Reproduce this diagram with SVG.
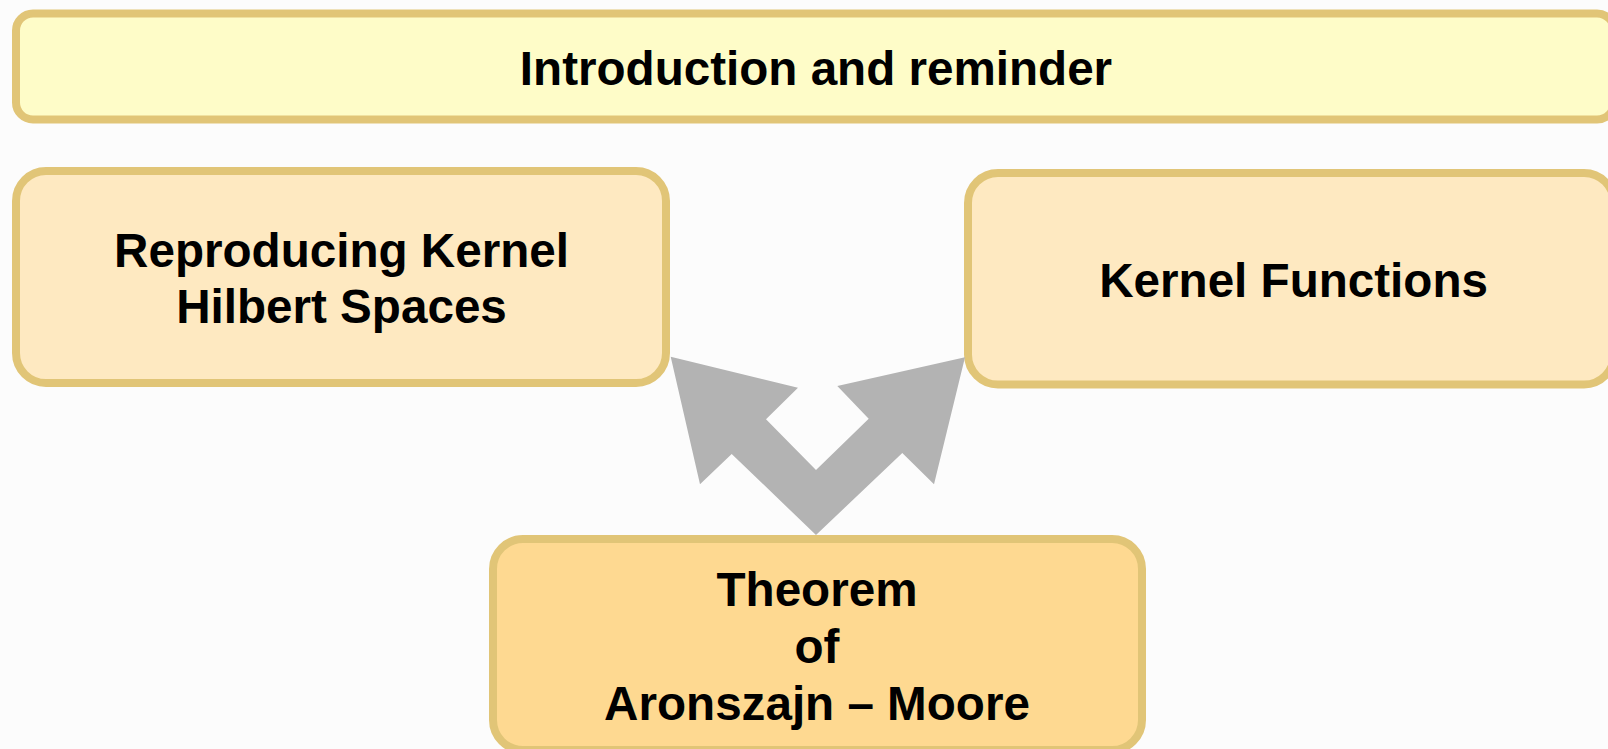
<svg xmlns="http://www.w3.org/2000/svg" width="1608" height="749" viewBox="0 0 1608 749">
<style>
.box{stroke:#E1C577;stroke-width:8}
.t{font-family:"Liberation Sans",Arial,sans-serif;font-weight:bold;font-size:47.6px;fill:#000;text-anchor:middle}
.arrow{fill:#B3B3B3}
</style>
<rect x="0" y="0" width="1608" height="749" fill="#FCFCFC"/>
<g id="intro">
<rect class="box" x="16" y="13.5" width="1598" height="106" rx="17" fill="#FEFCC8"/>
<text class="t" x="816" y="85">Introduction and reminder</text>
</g>
<g id="rkhs">
<rect class="box" x="16" y="171" width="650" height="212" rx="30" fill="#FEE9C1"/>
<text class="t" x="341.5" y="266.7">Reproducing Kernel</text>
<text class="t" x="341.5" y="323.3">Hilbert Spaces</text>
</g>
<g id="kernel">
<rect class="box" x="968" y="173" width="646" height="211.5" rx="30" fill="#FEE9C1"/>
<text class="t" x="1293.6" y="296.7">Kernel Functions</text>
</g>
<g id="theorem">
<rect class="box" x="493" y="539" width="649" height="211" rx="30" fill="#FED991"/>
<text class="t" x="817" y="606">Theorem</text>
<text class="t" x="817" y="663">of</text>
<text class="t" x="817" y="719.5">Aronszajn – Moore</text>
</g>
<g id="connectors">
<polygon class="arrow" points="670.7,356.7 798,387.7 766,419.3 816,470 868.7,418.7 837.3,386 965,357.3 934,484.3 902.3,453 816,535 731.7,454 700,484.3"/>
</g>
</svg>
